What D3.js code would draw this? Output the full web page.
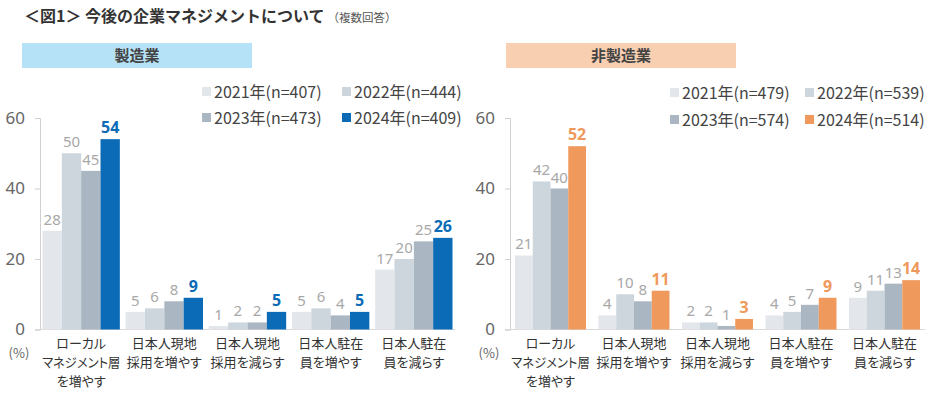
<!DOCTYPE html>
<html>
<head>
<meta charset="utf-8">
<script src="https://cdn.jsdelivr.net/npm/d3@7"></script>
<style>
body { margin: 0; background: #fff; }
svg { font-family: "Noto Sans CJK JP", "Noto Sans", sans-serif; }
.cat { font-feature-settings: "palt"; }
</style>
</head>
<body>
<svg id="chart" width="934" height="393"></svg>
<script>
// カテゴリ
const categories = [
    ["ローカル", "マネジメント層", "を増やす"],
    ["日本人現地", "採用を増やす"],
    ["日本人現地", "採用を減らす"],
    ["日本人駐在", "員を増やす"],
    ["日本人駐在", "員を減らす"]
];
const years = ["2021", "2022", "2023", "2024"];
const yTicks = [0, 20, 40, 60];

// 製造業
const mfgN = [407, 444, 473, 409];
const mfg2021 = [28, 5, 1, 5, 17];
const mfg2022 = [50, 6, 2, 6, 20];
const mfg2023 = [45, 8, 2, 4, 25];
const mfg2024 = [54, 9, 5, 5, 26];

// 非製造業
const nonN = [479, 539, 574, 514];
const non2021 = [21, 4, 2, 4, 9];
const non2022 = [42, 10, 2, 5, 11];
const non2023 = [40, 8, 1, 7, 13];
const non2024 = [52, 11, 3, 9, 14];

const svg = d3.select('#chart');

// title
const title = svg.append('text').attr('x', 24).attr('y', 22);
title.append('tspan').text('＜図1＞ 今後の企業マネジメントについて')
    .attr('font-size', 16).attr('font-weight', 'bold').attr('fill', '#333');
title.append('tspan').text('（複数回答）')
    .attr('font-size', 11.5).attr('fill', '#555').attr('dx', 3);

const y = d3.scaleLinear().domain([0, 60]).range([329.5, 118]);
const greys = ['#e3e7eb', '#cdd5dd', '#aab6c2'];

function panel(opt) {
    const g = svg.append('g');
    const series = [opt.s2021, opt.s2022, opt.s2023, opt.s2024];
    const colors = greys.concat([opt.color]);

    // header box
    g.append('rect')
        .attr('x', opt.box[0]).attr('y', 43)
        .attr('width', opt.box[1] - opt.box[0]).attr('height', 25)
        .attr('fill', opt.boxColor);
    g.append('text')
        .attr('x', (opt.box[0] + opt.box[1]) / 2).attr('y', 61)
        .attr('text-anchor', 'middle')
        .attr('font-size', 15).attr('font-weight', 'bold').attr('fill', '#444')
        .text(opt.name);

    const x0 = d3.scaleBand()
        .domain(d3.range(categories.length))
        .range([opt.x0, opt.x1])
        .paddingInner(opt.pi).paddingOuter(opt.po);
    const x1 = d3.scaleBand()
        .domain(d3.range(years.length))
        .range([0, x0.bandwidth()]);

    // y axis
    const yAxis = d3.axisLeft(y).tickValues(yTicks).tickSize(5).tickPadding(10);
    const ya = g.append('g').attr('transform', `translate(${opt.x0},0)`).call(yAxis);
    ya.select('.domain').attr('stroke', '#d0d0d0');
    ya.selectAll('.tick line').attr('stroke', '#d0d0d0');
    ya.selectAll('.tick text').attr('font-size', 17).attr('fill', '#666')
        .attr('font-family', '"Noto Sans", sans-serif');

    // x baseline
    g.append('line')
        .attr('x1', opt.x0).attr('x2', opt.x1)
        .attr('y1', y(0)).attr('y2', y(0))
        .attr('stroke', '#d8d8d8');

    // bars
    series.forEach((s, si) => {
        g.selectAll('.bar' + si)
            .data(s)
            .enter().append('rect')
                .attr('x', (d, i) => x0(i) + x1(si))
                .attr('y', d => y(d))
                .attr('width', x1.bandwidth())
                .attr('height', d => y(0) - y(d))
                .attr('fill', colors[si]);
        g.selectAll('.lbl' + si)
            .data(s)
            .enter().append('text')
                .attr('x', (d, i) => x0(i) + x1(si) + x1.bandwidth() / 2)
                .attr('y', d => y(d) - 6)
                .attr('text-anchor', 'middle')
                .attr('font-family', '"Noto Sans", sans-serif')
                .attr('font-size', si == 3 ? 16 : 15)
                .attr('font-weight', si == 3 ? 'bold' : 'normal')
                .attr('fill', si == 3 ? opt.color : '#a8a8a8')
                .text(d => d);
    });

    // category labels
    const step = x0.step();
    categories.forEach((lines, i) => {
        const cx = x0(i) + x0.bandwidth() / 2;
        lines.forEach((l, li) => {
            const t = g.append('text')
                .attr('class', 'cat')
                .attr('x', cx)
                .attr('y', 348 + li * 19)
                .attr('text-anchor', 'middle')
                .attr('font-size', 13).attr('fill', '#333')
                .text(l);
            // 長い行は幅に収める
            const w = t.node().getComputedTextLength();
            if (w > step - 5) {
                t.attr('textLength', step - 5).attr('lengthAdjust', 'spacingAndGlyphs');
            }
        });
    });
    g.append('text')
        .attr('x', opt.x0 - 21).attr('y', 358)
        .attr('text-anchor', 'middle')
        .attr('font-size', 13).attr('fill', '#666')
        .text('(%)');

    // legend
    years.forEach((yr, i) => {
        const lx = opt.legX[i % 2], ly = opt.legY[Math.floor(i / 2)];
        g.append('rect')
            .attr('x', lx).attr('y', ly - 5)
            .attr('width', 9).attr('height', 9)
            .attr('fill', colors[i]);
        g.append('text')
            .attr('x', lx + 12).attr('y', ly + 6)
            .attr('font-size', 16).attr('fill', '#444')
            .text(`${yr}年(n=${opt.n[i]})`);
    });
}

panel({
    name: '製造業', box: [22, 252], boxColor: '#b5e2f6',
    x0: 40, x1: 455, pi: 0.07, po: 0.03,
    s2021: mfg2021, s2022: mfg2022, s2023: mfg2023, s2024: mfg2024,
    n: mfgN, color: '#0b6bb7',
    legX: [202, 342], legY: [92, 118]
});

panel({
    name: '非製造業', box: [506, 736], boxColor: '#f9cfb2',
    x0: 510, x1: 925, pi: 0.15, po: 0.06,
    s2021: non2021, s2022: non2022, s2023: non2023, s2024: non2024,
    n: nonN, color: '#ef9a5c',
    legX: [670, 805], legY: [93, 120]
});
</script>
</body>
</html>
